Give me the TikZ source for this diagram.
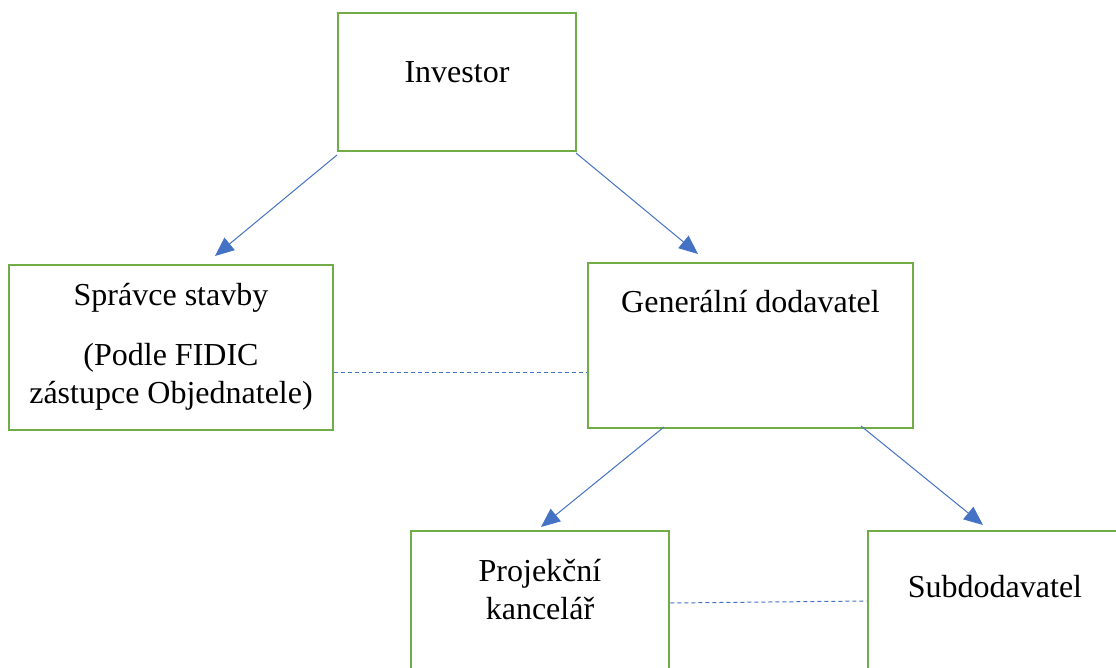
\documentclass[tikz,border=0pt]{standalone}
\usepackage{fontspec}
\setmainfont{Liberation Serif}
\usetikzlibrary{arrows.meta,calc}
\definecolor{boxgreen}{HTML}{70AD47}
\definecolor{linkblue}{HTML}{4472C4}
\tikzset{
  orgbox/.style={draw=boxgreen, line width=2.8pt, inner sep=0pt},
  lbl/.style={font=\fontsize{32}{38}\selectfont, align=center, inner sep=0pt},
  link/.style={draw=linkblue, line width=1pt, -{Triangle[length=19pt,width=16pt]}},
  peer/.style={draw=linkblue, line width=1pt, dash pattern=on 4pt off 3pt},
}
\begin{document}
\begin{tikzpicture}[x=1pt,y=-1pt]
\useasboundingbox (0,0) rectangle (1116,668);
\clip (0,0) rectangle (1116,668);
% boxes
\node[orgbox, minimum width=238pt, minimum height=138pt] (inv) at (457,82) {};
\node[orgbox, minimum width=324pt, minimum height=165pt] (spr) at (171,347.5) {};
\node[orgbox, minimum width=325pt, minimum height=165pt] (gen) at (750.5,345.5) {};
\node[orgbox, minimum width=258pt, minimum height=170pt] (proj) at (540,616) {};
\node[orgbox, minimum width=260pt, minimum height=170pt] (sub) at (998,616) {};
% texts
\node[lbl] (tinv) at (457,72) {Investor};
\node[lbl] (tspr1) at (171,298) {Správce stavby};
\node[lbl] (tspr2) at (171,377) {(Podle FIDIC\\zástupce Objednatele)};
\node[lbl] (tgen) at (750.5,302) {Generální dodavatel};
\node[lbl] (tproj) at (540,590) {Projekční\\kancelář};
\node[lbl] (tsub) at (995,587) {Subdodavatel};
% connector ends
\coordinate (a1s) at (337,155);
\coordinate (a1e) at (215,256);
\coordinate (a2s) at (576,153);
\coordinate (a2e) at (698,254);
\coordinate (a3s) at (664,427);
\coordinate (a3e) at (541,527);
\coordinate (a4s) at (861,426);
\coordinate (a4e) at (983,525);
\path[link] (a1s) -- (a1e);
\path[link] (a2s) -- (a2e);
\path[link] (a3s) -- (a3e);
\path[link] (a4s) -- (a4e);
% dashed peers
\path[peer] (spr.east |- 0,372) -- (gen.west |- 0,372);
\path[peer] (proj.east |- 0,603) -- (sub.west |- 0,601);
\end{tikzpicture}
\end{document}
